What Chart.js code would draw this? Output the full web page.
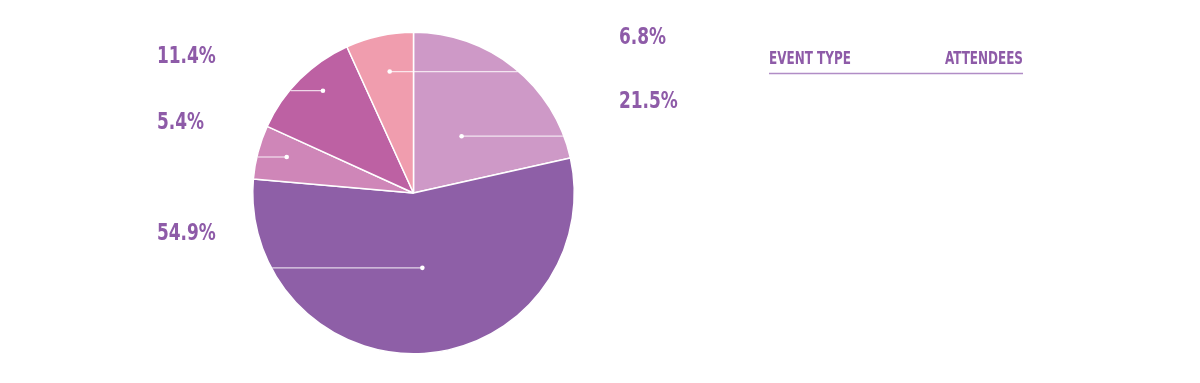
<!DOCTYPE html>
<html>
<head>
<meta charset="utf-8">
<script src="https://cdn.jsdelivr.net/npm/chart.js@4/dist/chart.umd.min.js"></script>
<style>
html,body{margin:0;padding:0;background:#fff;}
#wrap{position:relative;width:1200px;height:383px;}
</style>
</head>
<body>
<div id="wrap"><canvas id="c" width="1200" height="383"></canvas></div>
<script>
const categories = ["Type A", "Type B", "Type C", "Type D", "Type E"];
const shares = [21.5, 54.9, 5.4, 11.4, 6.8];
const sliceColors = ["#CE99C7", "#8E5FA7", "#CF86B8", "#BD61A3", "#F09DAE"];
const legendHeaders = ["EVENT TYPE", "ATTENDEES"];

// layout of leader anchors: [fraction along slice angle, fraction of radius, side]
const anchorLayout = [[0.52, 0.463, 'right'], [0.485, 0.469, 'left'], [0.556, 0.82, 'left'], [0.585, 0.85, 'left'], [0.547, 0.77, 'right']];

const TEXT_COLOR = "#8E5BA8";
const NUM_FONT = '"DejaVu Sans Condensed", "DejaVu Sans", sans-serif';

function squeezedText(ctx, text, x, y, sx, align) {
  ctx.save();
  const w = ctx.measureText(text).width * sx;
  const left = align === 'right' ? x - w : x;
  ctx.translate(left, y);
  ctx.scale(sx, 1);
  ctx.textAlign = 'left';
  ctx.fillText(text, 0, 0);
  ctx.restore();
}

const leaderPlugin = {
  id: 'leaders',
  afterDatasetsDraw(chart) {
    const ctx = chart.ctx;
    const meta = chart.getDatasetMeta(0);
    ctx.save();
    meta.data.forEach((arc, i) => {
      const p = arc.getProps(['x','y','startAngle','endAngle','outerRadius'], true);
      const [t, f, side] = anchorLayout[i];
      const ang = p.startAngle + (p.endAngle - p.startAngle) * t;
      const R = p.outerRadius;
      const dx = p.x + Math.cos(ang) * R * f;
      const dy = p.y + Math.sin(ang) * R * f;
      const right = side === 'right';
      const off = dy - p.y;
      const edge = Math.sqrt(Math.max(R*R - off*off, 0)) - 1;
      const ex = right ? p.x + edge : p.x - edge;
      ctx.strokeStyle = 'rgba(255,255,255,0.75)';
      ctx.lineWidth = 1.2;
      ctx.beginPath();
      ctx.moveTo(dx, dy);
      ctx.lineTo(ex, dy);
      ctx.stroke();
      ctx.fillStyle = '#ffffff';
      ctx.beginPath();
      ctx.arc(dx, dy, 2.3, 0, Math.PI*2);
      ctx.fill();
      ctx.fillStyle = TEXT_COLOR;
      ctx.font = 'bold 23px ' + NUM_FONT;
      ctx.textBaseline = 'alphabetic';
      const lx = right ? 619 : 157;
      squeezedText(ctx, shares[i].toFixed(1) + '%', lx, dy - 28, 0.82, 'left');
    });
    ctx.font = 'bold 18px ' + NUM_FONT;
    ctx.fillStyle = TEXT_COLOR;
    ctx.textBaseline = 'alphabetic';
    ctx.lineWidth = 0.6;
    ctx.strokeStyle = TEXT_COLOR;
    squeezedText(ctx, legendHeaders[0], 769, 64, 0.74, 'left');
    squeezedText(ctx, legendHeaders[1], 1023, 64, 0.74, 'right');
    ctx.strokeStyle = '#B18DC6';
    ctx.lineWidth = 1.5;
    ctx.beginPath();
    ctx.moveTo(769, 73.5);
    ctx.lineTo(1023, 73.5);
    ctx.stroke();
    ctx.restore();
  }
};

new Chart(document.getElementById('c'), {
  type: 'pie',
  data: {
    labels: categories,
    datasets: [{
      data: shares,
      backgroundColor: sliceColors,
      borderColor: '#ffffff',
      borderWidth: 1.5
    }]
  },
  options: {
    responsive: false,
    animation: false,
    layout: { padding: { left: 252, right: 625, top: 31, bottom: 28 } },
    plugins: { legend: { display: false }, tooltip: { enabled: false } }
  },
  plugins: [leaderPlugin]
});
</script>
</body>
</html>
